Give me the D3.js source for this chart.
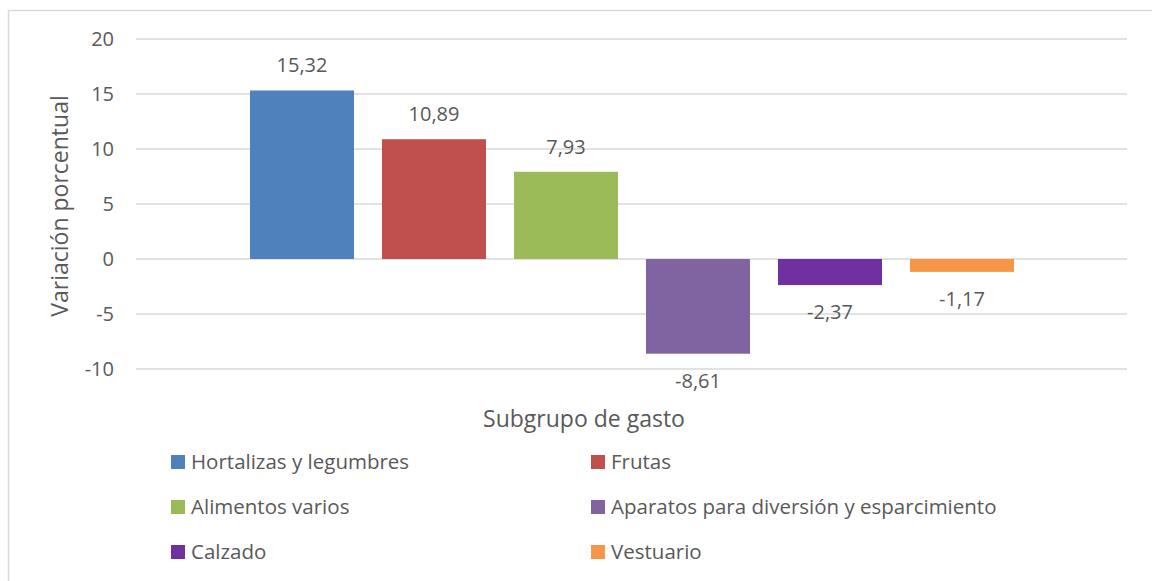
<!DOCTYPE html>
<html>
<head>
<meta charset="utf-8">
<script src="https://cdn.jsdelivr.net/npm/d3@7"></script>
<style>
  body { margin: 0; background: #fff; }
  svg text { font-family: "Open Sans", sans-serif; fill: #595959; }
</style>
</head>
<body>
<div id="chart"></div>
<script>
// Data
var categories = ['Hortalizas y legumbres', 'Frutas', 'Alimentos varios',
  'Aparatos para diversión y esparcimiento', 'Calzado', 'Vestuario'];
var values = [15.32, 10.89, 7.93, -8.61, -2.37, -1.17];
var colors = ['#4F81BD', '#C0504D', '#9BBB59', '#8064A2', '#7030A0', '#F79646'];
var yTicks = [-10, -5, 0, 5, 10, 15, 20];

var width = 1152, height = 581;
var svg = d3.select('#chart').append('svg')
  .attr('width', width)
  .attr('height', height);

// outer chart border (runs off right and bottom)
svg.append('rect')
  .attr('x', 8.5).attr('y', 10.5)
  .attr('width', 1200).attr('height', 600)
  .attr('fill', 'none')
  .attr('stroke', '#d9d9d9')
  .attr('stroke-width', 1.5);

var plotLeft = 136, plotRight = 1127;

var y = d3.scaleLinear().domain([-10, 20]).range([369, 39]);
var x = d3.scaleBand().domain(categories)
  .range([236, 1028])
  .paddingInner(28 / 132)
  .paddingOuter(14 / 132);

// gridlines
svg.append('g').selectAll('line').data(yTicks).enter()
  .append('line')
  .attr('x1', plotLeft).attr('x2', plotRight)
  .attr('y1', function(d) { return y(d); })
  .attr('y2', function(d) { return y(d); })
  .attr('stroke', '#d9d9d9')
  .attr('stroke-width', 1.5);

// y axis labels
var yAxis = d3.axisLeft(y).tickValues(yTicks).tickSize(0).tickPadding(0)
  .tickFormat(function(d) { return String(d); });
var ga = svg.append('g').attr('transform', 'translate(114,0)').call(yAxis);
ga.select('.domain').remove();
ga.selectAll('text')
  .attr('fill', '#595959')
  .style('font-size', '20px')
  .style('font-family', '"Open Sans", sans-serif');

// bars
svg.append('g').selectAll('rect').data(values).enter()
  .append('rect')
  .attr('x', function(d, i) { return x(categories[i]); })
  .attr('width', x.bandwidth())
  .attr('y', function(d) { return y(Math.max(0, d)); })
  .attr('height', function(d) { return Math.abs(y(d) - y(0)); })
  .attr('fill', function(d, i) { return colors[i]; });

// value labels
svg.append('g').selectAll('text').data(values).enter()
  .append('text')
  .attr('x', function(d, i) { return x(categories[i]) + x.bandwidth() / 2; })
  .attr('y', function(d) { return d >= 0 ? y(d) - 18 : y(d) + 34; })
  .attr('text-anchor', 'middle')
  .style('font-size', '20px')
  .text(function(d) { return String(d.toFixed(2)).replace('.', ','); });

// axis titles
svg.append('text')
  .attr('transform', 'translate(68,206) rotate(-90)')
  .attr('text-anchor', 'middle')
  .style('font-size', '23px')
  .text('Variación porcentual');

svg.append('text')
  .attr('x', 584).attr('y', 427)
  .attr('text-anchor', 'middle')
  .style('font-size', '23px')
  .text('Subgrupo de gasto');

// legend, two columns
var legend = svg.append('g').selectAll('g').data(categories).enter()
  .append('g')
  .attr('transform', function(d, i) {
    return 'translate(' + (171 + (i % 2) * 420) + ',' + (455 + Math.floor(i / 2) * 45) + ')';
  });
legend.append('rect')
  .attr('width', 14).attr('height', 14)
  .attr('fill', function(d, i) { return colors[i]; });
legend.append('text')
  .attr('x', 20).attr('y', 14)
  .style('font-size', '20.5px')
  .text(function(d) { return d; });
</script>
</body>
</html>
